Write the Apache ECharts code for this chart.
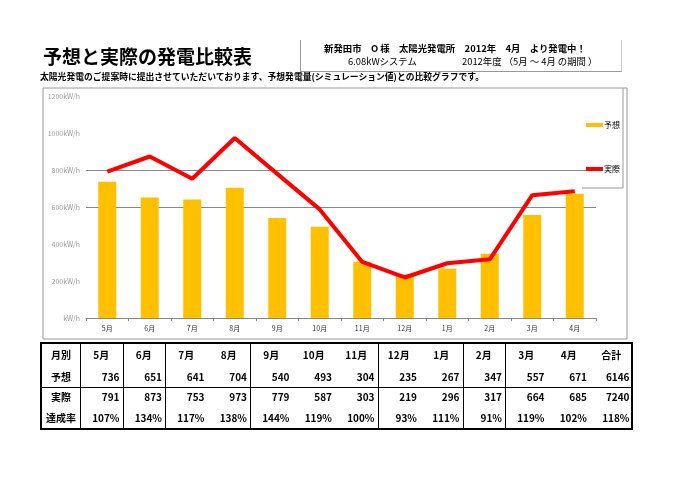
<!DOCTYPE html>
<html><head><meta charset="utf-8">
<script src="https://cdn.jsdelivr.net/npm/echarts@6/dist/echarts.min.js"></script>
<style>
html,body{margin:0;padding:0;background:#fff;}
body{width:677px;height:477px;position:relative;overflow:hidden;font-family:"Noto Sans CJK JP","Noto Sans",sans-serif;}
#chart{position:absolute;left:0;top:0;width:677px;height:477px;}
.t{position:absolute;white-space:nowrap;font-weight:bold;color:#000;line-height:1;}
#tbl{position:absolute;left:40px;top:342px;width:589px;height:84px;border:2px solid #000;}
.c{position:absolute;font-size:10px;font-weight:bold;line-height:1;white-space:nowrap;}
.v{position:absolute;top:0;bottom:0;width:1px;background:#000;}
</style></head><body>
<div id="chart"></div>
<div class="t" style="left:43px;top:46px;font-size:19px;">予想と実際の発電比較表</div>
<div class="t" style="left:40px;top:73px;font-size:8.8px;">太陽光発電のご提案時に提出させていただいております、予想発電量(シミュレーション値)との比較グラフです。</div>
<div style="position:absolute;left:300px;top:40px;width:320px;height:31px;border-left:1px solid #999;border-bottom:1px solid #999;border-right:1px solid #ccc;"></div>
<div class="t" style="left:324px;top:44px;font-size:9.4px;">新発田市　O 様　太陽光発電所　2012年　4月　より発電中！</div>
<div class="t" style="left:348px;top:57px;font-size:9.4px;font-weight:normal;">6.08kWシステム</div>
<div class="t" style="left:462px;top:57px;font-size:9.4px;font-weight:normal;">2012年度 （5月 ～ 4月 の期間 ）</div>
<div id="tbl"></div>
<script>
var months = ['5月','6月','7月','8月','9月','10月','11月','12月','1月','2月','3月','4月'];
var forecast = [736,651,641,704,540,493,304,235,267,347,557,671];
var actual = [791,873,753,973,779,587,303,219,296,317,664,685];
var rate = ['107%','134%','117%','138%','144%','119%','100%','93%','111%','91%','119%','102%'];
var totalForecast = 6146, totalActual = 7240, totalRate = '118%';
var yTicks = ['kW/h','200kW/h','400kW/h','600kW/h','800kW/h','1000kW/h','1200kW/h'];
var rowLabels = ['月別','予想','実際','達成率'];

var chart = echarts.init(document.getElementById('chart'), null, {renderer:'canvas'});
var ff = '"Noto Sans CJK JP","Noto Sans",sans-serif';
chart.setOption({
  animation:false,
  backgroundColor:'#fff',
  grid:{left:86,right:81,top:96,bottom:159},
  legend:{
    orient:'vertical', left:586, top:119, itemGap:36, itemWidth:17, itemHeight:4,
    backgroundColor:'#fff', padding:[2,2,2,0],
    textStyle:{fontSize:8,color:'#000',fontFamily:ff,padding:[0,0,0,-4]},
    data:[{name:'予想',icon:'rect'},{name:'実際',icon:'rect'}]
  },
  graphic:[
    {type:'rect',shape:{x:43,y:88,width:584,height:251},style:{fill:'none',stroke:'#999',lineWidth:1},z:-10},
    {type:'polyline',shape:{points:[[623,88],[623,188],[582,188]]},style:{stroke:'#999',lineWidth:1,fill:'none'},z:100}
  ],
  xAxis:{
    type:'category', data:months,
    axisLine:{lineStyle:{color:'#888'}},
    axisTick:{show:true,length:3,lineStyle:{color:'#888'}},
    axisLabel:{fontSize:7,color:'#333',fontFamily:ff,margin:7}
  },
  yAxis:{
    type:'value', min:0, max:1200, interval:200,
    axisLine:{show:false},
    axisTick:{show:false},
    axisLabel:{fontSize:7,color:'#999',fontFamily:ff,margin:6,
      formatter:function(v){return yTicks[v/200];}},
    splitLine:{show:true,lineStyle:{color:['rgba(0,0,0,0)','rgba(0,0,0,0)','rgba(0,0,0,0)','#888','#888','rgba(0,0,0,0)','rgba(0,0,0,0)'],width:1}}
  },
  series:[
    {name:'予想',type:'bar',data:forecast,barWidth:18,itemStyle:{color:'#FFC000'}},
    {name:'実際',type:'line',data:actual,symbol:'none',lineStyle:{color:'#FF0000',width:4},itemStyle:{color:'#FF0000'},z:5}
  ]
});

// table
var tbl = document.getElementById('tbl');
var x0 = 38, cw = 42.5;
var rowTop = [6,28,48,69];
var seps = [0,1,2,4,7,9,10,12]; // separator after column index (0 = label col)
function cell(txt, left, width, top, align){
  var d = document.createElement('div');
  d.className='c'; d.textContent=txt;
  d.style.left=left+'px'; d.style.width=width+'px'; d.style.top=top+'px'; d.style.textAlign=align;
  tbl.appendChild(d);
}
for (var r=0;r<4;r++) cell(rowLabels[r],0,x0,rowTop[r],'center');
var heads = months.concat(['合計']);
var fRow = forecast.concat([totalForecast]);
var aRow = actual.concat([totalActual]);
var rRow = rate.concat([totalRate]);
for (var i=0;i<13;i++){
  var l = x0 + i*cw;
  cell(heads[i], l, cw, rowTop[0], 'center');
  cell(String(fRow[i]), l, cw-3, rowTop[1], 'right');
  cell(String(aRow[i]), l, cw-3, rowTop[2], 'right');
  cell(rRow[i], l, cw-3, rowTop[3], 'right');
}
seps.forEach(function(s){
  if (s===12) return;
  var v=document.createElement('div'); v.className='v';
  v.style.left=(x0 + s*cw)+'px'; tbl.appendChild(v);
});
var h=document.createElement('div');
h.style.cssText='position:absolute;left:0;right:0;top:43px;height:1px;background:#000;';
tbl.appendChild(h);
</script>
</body></html>
